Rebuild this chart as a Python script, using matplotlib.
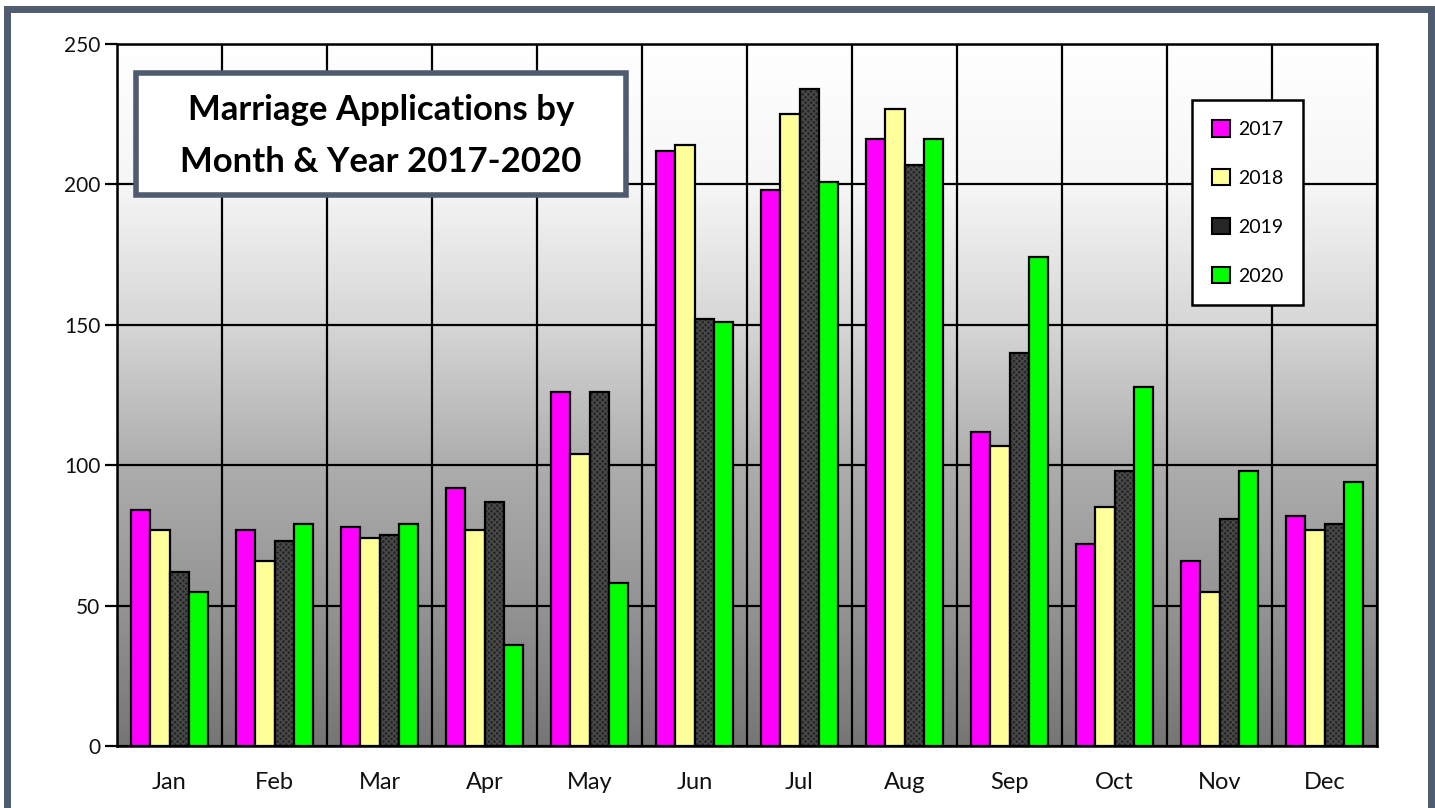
import numpy as np
import matplotlib
matplotlib.use("Agg")
import matplotlib.pyplot as plt
from matplotlib.patches import Rectangle, Patch
from matplotlib.colors import LinearSegmentedColormap

months = ["Jan", "Feb", "Mar", "Apr", "May", "Jun", "Jul", "Aug", "Sep", "Oct", "Nov", "Dec"]
years = ["2017", "2018", "2019", "2020"]
v2017 = [84, 77, 78, 92, 126, 212, 198, 216, 112, 72, 66, 82]
v2018 = [77, 66, 74, 77, 104, 214, 225, 227, 107, 85, 55, 77]
v2019 = [62, 73, 75, 87, 126, 152, 234, 207, 140, 98, 81, 79]
v2020 = [55, 79, 79, 36, 58, 151, 201, 216, 174, 128, 98, 94]
yticks = [0, 50, 100, 150, 200, 250]
title_lines = ["Marriage Applications by", "Month & Year 2017-2020"]

colors = ["#ff00ff", "#ffff99", "#262626", "#00ff00"]
series = [v2017, v2018, v2019, v2020]

plt.rcParams['font.family'] = ['Lato', 'DejaVu Sans']

W, H = 1435, 808
fig = plt.figure(figsize=(W / 100, H / 100), dpi=100)
fig.patch.set_facecolor("white")

# outer frame
border = "#4f5b6e"
fig.patches.append(Rectangle((6.5 / W, -0.1), (1431 - 6.5) / W, (H - 9.5) / H + 0.1,
                             transform=fig.transFigure, fill=False,
                             edgecolor=border, linewidth=5, zorder=0))

ax = fig.add_axes([117 / W, 1 - 746 / H, (1377 - 117) / W, (746 - 44) / H])
ax.set_xlim(0, 12)
ax.set_ylim(0, 250)

# gradient background
cmap = LinearSegmentedColormap.from_list("bg", [(0.0, "#767676"), (0.2, "#949494"),
                                                (0.4, "#adadad"), (0.6, "#d6d6d6"),
                                                (0.8, "#f6f6f6"), (1.0, "#ffffff")])
grad = np.linspace(0, 1, 256).reshape(-1, 1)
ax.imshow(grad, extent=[0, 12, 0, 250], origin="lower", aspect="auto", cmap=cmap, zorder=0)

# grid
for xg in range(13):
    ax.axvline(xg, color="black", linewidth=1.6, zorder=1)
for yg in yticks:
    ax.axhline(yg, color="black", linewidth=1.6, zorder=1)

bw = 0.181
x = np.arange(12) + 0.5
offs = (np.arange(4) - 1.5) * bw
for i, (vals, c) in enumerate(zip(series, colors)):
    if i == 2:
        ax.bar(x + offs[i], vals, width=bw, color=c, edgecolor="#4a4a4a",
               hatch="xxxxxx", linewidth=0, zorder=2)
        ax.bar(x + offs[i], vals, width=bw, facecolor="none", edgecolor="black",
               linewidth=1.6, zorder=3)
    else:
        ax.bar(x + offs[i], vals, width=bw, color=c, edgecolor="black",
               linewidth=1.6, zorder=3)

for s in ax.spines.values():
    s.set_linewidth(1.8)
    s.set_color("black")

ax.set_yticks(yticks)
ax.set_yticklabels([str(t) for t in yticks], fontsize=15, color="#111111")
ax.tick_params(axis="y", length=9, width=1.6, pad=3)
ax.set_xticks(x)
ax.set_xticklabels(months, fontsize=17, color="#111111")
ax.tick_params(axis="x", length=0, pad=19)

# title box
tb = Rectangle((136 / W, 1 - 195 / H), (626 - 136) / W, (195 - 73) / H,
               transform=fig.transFigure, facecolor="white", edgecolor=border,
               linewidth=4, zorder=5)
fig.patches.append(tb)
fig.text(381 / W, 1 - 110 / H, title_lines[0], ha="center", va="center",
         fontsize=25, fontweight="bold", zorder=6)
fig.text(381 / W, 1 - 162 / H, title_lines[1], ha="center", va="center",
         fontsize=25, fontweight="bold", zorder=6)

# legend
hs = [Patch(facecolor=c, edgecolor="black", linewidth=1.5) for c in colors]
leg = ax.legend(hs, years, loc="upper left",
                bbox_to_anchor=((1192 - 117) / 1260, (746 - 100) / 702),
                fontsize=14, frameon=True, fancybox=False, framealpha=1,
                labelspacing=1.6, handlelength=0.9, handleheight=0.9,
                handletextpad=0.4, borderpad=1.05, borderaxespad=0)
leg.get_frame().set_edgecolor("black")
leg.get_frame().set_linewidth(1.8)
leg.set_zorder(10)

fig.savefig("out.png", dpi=100, facecolor="white")
